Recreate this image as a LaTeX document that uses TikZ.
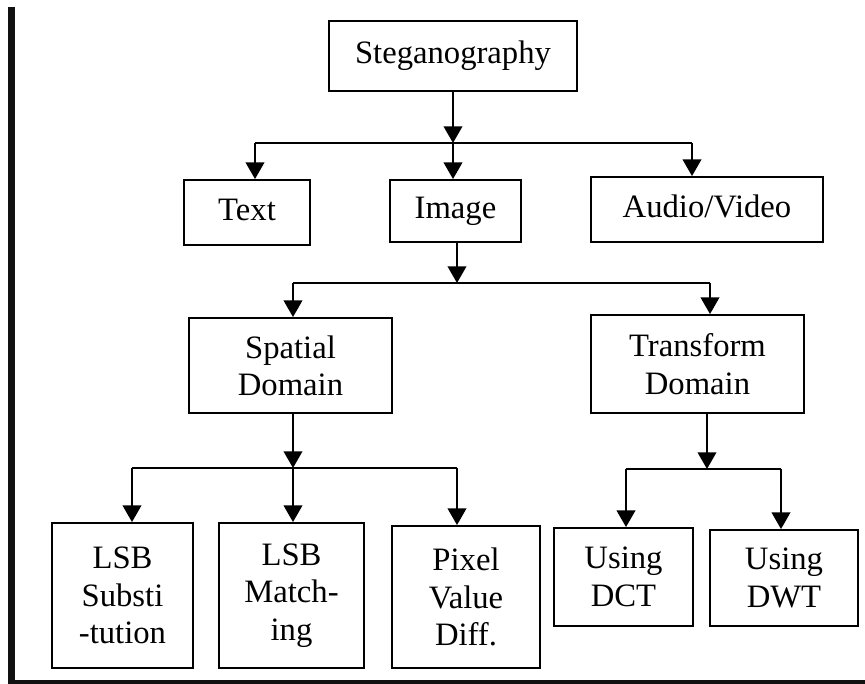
\documentclass[tikz,border=0pt]{standalone}
\usepackage{fontspec}
\setmainfont{Liberation Serif}
\usetikzlibrary{arrows.meta,positioning,calc}

\begin{document}
\begin{tikzpicture}[x=0.75pt,y=0.75pt,yscale=-1,xscale=1,
  box/.style={draw,line width=1.4pt,inner sep=0pt,align=center,font=\fontsize{24.5}{28}\selectfont},
  oneline/.style={text height=16pt,text depth=4pt},
  sz/.style 2 args={minimum width=#1*0.75pt,minimum height=#2*0.75pt},
  link/.style={line width=1.3pt},
  arr/.style={line width=1.3pt,-{Triangle[length=12.5pt,width=14pt]}}]

\useasboundingbox (0,0) rectangle (865,684);

%Frame lines
\fill [color={rgb, 255:red, 17; green, 17; blue, 17 }] (8,7) rectangle (15,684);
\fill [color={rgb, 255:red, 17; green, 17; blue, 17 }] (15,680) rectangle (865,684);

% Boxes
\node [box,oneline,sz={248}{70}] (steg) at (453,56) {Steganography};
\node [box,oneline,sz={126}{65}] (text) at (247,212.5) {Text};
\node [box,oneline,sz={131}{62}] (image) at (455.5,211) {Image};
\node [box,oneline,sz={232}{65}] (av) at (707,209.5) {Audio/Video};
\node [box,sz={203}{95}] (spatial) at (290.5,365.5) {Spatial\\Domain};
\node [box,sz={213}{98}] (transform) at (697.5,364) {Transform\\Domain};
\node [box,sz={141}{145}] (lsbs) at (122.5,595.5) {LSB\\Substi\\-tution};
\node [box,sz={145}{145}] (lsbm) at (291.5,595.5) {LSB\\Match-\\ing};
\node [box,sz={148}{142}] (pvd) at (466,597) {Pixel\\Value\\Diff.};
\node [box,sz={139}{98}] (dct) at (623.5,577) {Using\\DCT};
\node [box,sz={148}{96}] (dwt) at (784,578) {Using\\DWT};

% Junctions
\coordinate (j1) at (453,143);
\coordinate (j2) at (457,283);
\coordinate (j3) at (293,468);
\coordinate (j4) at (707,469);
\coordinate (tText) at (255,143);
\coordinate (tAv) at (692,143);
\coordinate (tSp) at (293,283);
\coordinate (tTr) at (710,283);
\coordinate (tLs) at (132,468);
\coordinate (tPv) at (457,468);
\coordinate (tDc) at (626,469);
\coordinate (tDw) at (781,469);

% Level 1
\draw [arr] (steg.south -| j1) -- (j1);
\draw [link] (tText) -- (tAv);
\draw [arr] (tText) -- (tText |- text.north);
\draw [arr] (j1) -- (j1 |- image.north);
\draw [arr] (tAv) -- (tAv |- av.north);

% Level 2
\draw [arr] (image.south -| j2) -- (j2);
\draw [link] (tSp) -- (tTr);
\draw [arr] (tSp) -- (tSp |- spatial.north);
\draw [arr] (tTr) -- (tTr |- transform.north);

% Level 3
\draw [arr] (spatial.south -| j3) -- (j3);
\draw [link] (tLs) -- (tPv);
\draw [arr] (tLs) -- (tLs |- lsbs.north);
\draw [arr] (j3) -- (j3 |- lsbm.north);
\draw [arr] (tPv) -- (tPv |- pvd.north);

\draw [arr] (transform.south -| j4) -- (j4);
\draw [link] (tDc) -- (tDw);
\draw [arr] (tDc) -- (tDc |- dct.north);
\draw [arr] (tDw) -- (tDw |- dwt.north);

\end{tikzpicture}
\end{document}
